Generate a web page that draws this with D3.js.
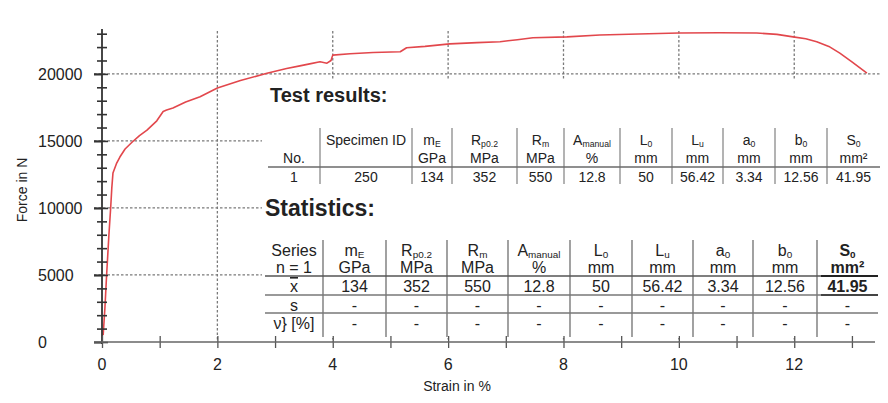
<!DOCTYPE html>
<html><head><meta charset="utf-8">
<script src="https://cdn.jsdelivr.net/npm/d3@7/dist/d3.min.js"></script>
<style>
html,body{margin:0;padding:0;background:#fff;}
text{font-family:"Liberation Sans",Arial,sans-serif;fill:#222;}
</style></head>
<body><svg id="c" width="888" height="403"></svg>
<script>
// ---- curve data (strain %, force N) ----
const strain = [0.02,0.05,0.08,0.12,0.15,0.17,0.19,0.25,0.31,0.40,0.52,0.65,0.78,0.95,1.06,1.12,1.23,1.45,1.70,2.00,2.40,2.86,3.20,3.43,3.60,3.78,3.90,3.97,4.00,4.30,4.70,5.17,5.28,5.60,6.03,6.50,6.90,7.20,7.47,8.06,8.63,9.30,10.00,10.70,11.35,11.70,11.98,12.20,12.39,12.60,12.79,13.00,13.26];
const force  = [500,2500,5000,8000,10000,11500,12600,13300,13800,14400,14900,15400,15800,16500,17200,17300,17450,17900,18300,18950,19500,20050,20400,20600,20750,20900,20800,21000,21400,21500,21600,21650,21950,22050,22240,22330,22400,22550,22700,22760,22900,22980,23050,23070,23050,22950,22760,22620,22400,22050,21550,20900,20050];

// ---- axes ----
const xTickLabels = [0,2,4,6,8,10,12];
const xMinorTicks = [1,3,5,7,9,11,13];
const yTickLabels = [0,5000,10000,15000,20000];
const yMinorTicks = [1000,2000,3000,4000,6000,7000,8000,9000,11000,12000,13000,14000,16000,17000,18000,19000,21000,22000,23000];
const xTitle = "Strain in %";
const yTitle = "Force in N";

// ---- test results table ----
const trTitle = "Test results:";
const trSymbols = [["m","E"],["R","p0.2"],["R","m"],["A","manual"],["L","0"],["L","u"],["a","0"],["b","0"],["S","0"]];
const trUnits = ["GPa","MPa","MPa","%","mm","mm","mm","mm","mm²"];
const trNo = ["No.","1"];
const trSpec = ["Specimen ID","250"];
const trValues = ["134","352","550","12.8","50","56.42","3.34","12.56","41.95"];

// ---- statistics table ----
const stTitle = "Statistics:";
const stRowLabels = ["Series","n = 1","x","s","ν} [%]"];
const stMean = ["134","352","550","12.8","50","56.42","3.34","12.56","41.95"];
const stSd   = ["-","-","-","-","-","-","-","-","-"];
const stCv   = ["-","-","-","-","-","-","-","-","-"];

const svg = d3.select("#c");
const x = d3.scaleLinear().domain([0,13.4]).range([102,875]);
const y = d3.scaleLinear().domain([0,23200]).range([342,31]);

// gridlines
const grid = svg.append("g").attr("stroke","#7a7a7a").attr("stroke-width",1.3).attr("stroke-dasharray","2.5,2");
grid.selectAll(".gv").data(xTickLabels.filter(d=>d>0)).join("line")
  .attr("x1",d=>x(d)).attr("x2",d=>x(d)).attr("y1",y(23200)).attr("y2",y(0));
grid.selectAll(".gh").data(yTickLabels.filter(d=>d>0)).join("line")
  .attr("x1",x(0)-8).attr("x2",x(13.4)+5).attr("y1",d=>y(d)).attr("y2",d=>y(d));

// white panel behind tables
svg.append("rect").attr("x",262).attr("y",80).attr("width",626).attr("height",258).attr("fill","#fff");

// curve
const pts = strain.map((s,i)=>[s,force[i]]);
svg.append("path").datum(pts)
  .attr("d",d3.line().x(d=>x(d[0])).y(d=>y(d[1])))
  .attr("fill","none").attr("stroke","#e2474c").attr("stroke-width",1.6).attr("stroke-linejoin","round");

// y axis
const yl = svg.append("g").attr("transform",`translate(${x(0)},0)`)
  .call(d3.axisLeft(y).tickValues(yTickLabels).tickSize(8).tickFormat(""));
const yr = svg.append("g").attr("transform",`translate(${x(0)},0)`)
  .call(d3.axisRight(y).tickValues(yTickLabels).tickSize(6).tickFormat(""));
const ym1 = svg.append("g").attr("transform",`translate(${x(0)},0)`)
  .call(d3.axisLeft(y).tickValues(yMinorTicks).tickSize(5).tickFormat(""));
const ym2 = svg.append("g").attr("transform",`translate(${x(0)},0)`)
  .call(d3.axisRight(y).tickValues(yMinorTicks).tickSize(5).tickFormat(""));
[yl,yr,ym1,ym2].forEach(g=>{g.select(".domain").remove();g.selectAll("line").attr("stroke","#333").attr("stroke-width",1.6);});
yl.selectAll("line").attr("stroke-width",2.2);
svg.append("line").attr("x1",x(0)).attr("x2",x(0)).attr("y1",29).attr("y2",y(0)+2).attr("stroke","#333").attr("stroke-width",1.8);
svg.append("g").selectAll("text").data(yTickLabels).join("text")
  .attr("x",38).attr("y",d=>y(d)).attr("dy","0.36em").attr("font-size",16).text(d=>d);

// x axis
const xa1 = svg.append("g").attr("transform",`translate(0,${y(0)})`)
  .call(d3.axisBottom(x).tickValues(xTickLabels.concat(xMinorTicks)).tickSize(6).tickFormat(""));
const xa2 = svg.append("g").attr("transform",`translate(0,${y(0)})`)
  .call(d3.axisTop(x).tickValues(xTickLabels.concat(xMinorTicks)).tickSize(6).tickFormat(""));
[xa1,xa2].forEach(g=>{g.select(".domain").remove();g.selectAll("line").attr("stroke","#555").attr("stroke-width",1.3);});
svg.append("line").attr("x1",94).attr("x2",x(13.4)).attr("y1",y(0)).attr("y2",y(0)).attr("stroke","#666").attr("stroke-width",1.6);
svg.append("g").selectAll("text").data(xTickLabels).join("text")
  .attr("x",d=>x(d)).attr("y",370).attr("text-anchor","middle").attr("font-size",16).text(d=>d);
svg.append("text").attr("x",457).attr("y",391).attr("text-anchor","middle").attr("font-size",14).text(xTitle);
svg.append("text").attr("transform","translate(27,190) rotate(-90)").attr("text-anchor","middle").attr("font-size",14).text(yTitle);

// helper for symbol with subscript
function sym(t, cx, cy, fs, pair, bold){
  const el = t.append("text").attr("x",cx).attr("y",cy).attr("text-anchor","middle").attr("font-size",fs);
  if(bold) el.attr("font-weight","bold");
  el.append("tspan").text(pair[0]);
  el.append("tspan").attr("font-size",fs*0.62).attr("dy",fs*0.12).text(pair[1]);
  return el;
}

// ---- Test results table ----
const T = svg.append("g");
T.append("text").attr("x",270).attr("y",102).attr("font-size",20).attr("font-weight","bold").attr("fill","#111").text(trTitle);
const trEdges = [268,320,412,452,517,564,620,672,723,775,827,880];
const trCx = trEdges.slice(0,-1).map((e,i)=>(e+trEdges[i+1])/2);
T.selectAll(".sep").data(trEdges.slice(1,-1)).join("line")
  .attr("x1",d=>d).attr("x2",d=>d).attr("y1",128).attr("y2",184).attr("stroke","#8a8a8a").attr("stroke-width",1.3);
T.append("line").attr("x1",268).attr("x2",880).attr("y1",167).attr("y2",167).attr("stroke","#6a6a6a").attr("stroke-width",1.6);
T.append("text").attr("x",trCx[0]).attr("y",163).attr("text-anchor","middle").attr("font-size",14).text(trNo[0]);
T.append("text").attr("x",trCx[0]).attr("y",182).attr("text-anchor","middle").attr("font-size",14).text(trNo[1]);
T.append("text").attr("x",trCx[1]).attr("y",145).attr("text-anchor","middle").attr("font-size",14).text(trSpec[0]);
T.append("text").attr("x",trCx[1]).attr("y",182).attr("text-anchor","middle").attr("font-size",14).text(trSpec[1]);
trSymbols.forEach((p,i)=>{
  sym(T, trCx[i+2], 145, 14, p, false);
  T.append("text").attr("x",trCx[i+2]).attr("y",163).attr("text-anchor","middle").attr("font-size",14).text(trUnits[i]);
  T.append("text").attr("x",trCx[i+2]).attr("y",182).attr("text-anchor","middle").attr("font-size",14).text(trValues[i]);
});

// ---- Statistics table ----
const S = svg.append("g");
S.append("text").attr("x",265).attr("y",216).attr("font-size",23).attr("font-weight","bold").attr("fill","#111").text(stTitle);
const stEdges = [265,323,386,447,508,570,632,693,753,817,878];
const stCx = stEdges.slice(0,-1).map((e,i)=>(e+stEdges[i+1])/2);
S.selectAll(".sep").data(stEdges.slice(1,-1)).join("line")
  .attr("x1",d=>d).attr("x2",d=>d).attr("y1",240).attr("y2",337).attr("stroke","#7a7a7a").attr("stroke-width",1.4);
[276,295,313].forEach((ly,i)=>{
  S.append("line").attr("x1",265).attr("x2",878).attr("y1",ly).attr("y2",ly)
    .attr("stroke",i===0?"#555":"#777").attr("stroke-width",i===0?1.7:1.4);
});
S.append("line").attr("x1",stEdges[9]+4).attr("x2",878).attr("y1",276).attr("y2",276).attr("stroke","#222").attr("stroke-width",2.2);
S.append("line").attr("x1",stEdges[9]+4).attr("x2",878).attr("y1",295).attr("y2",295).attr("stroke","#444").attr("stroke-width",1.8);
const rowY = [256,273,292,311,329];
stRowLabels.forEach((t,i)=>{
  const el = S.append("text").attr("x",stCx[0]).attr("y",rowY[i]).attr("text-anchor","middle").attr("font-size",16).text(t);
  if(i===2) el.attr("text-decoration","overline");
});
trSymbols.forEach((p,i)=>{
  const cx = stCx[i+1];
  sym(S, cx, 256, 16, p, i===8);
  const u = S.append("text").attr("x",cx).attr("y",273).attr("text-anchor","middle").attr("font-size",16).text(trUnits[i]);
  if(i===8) u.attr("font-weight","bold");
  const m = S.append("text").attr("x",cx).attr("y",292).attr("text-anchor","middle").attr("font-size",16).text(stMean[i]);
  if(i===8) m.attr("font-weight","bold");
  S.append("text").attr("x",cx).attr("y",311).attr("text-anchor","middle").attr("font-size",16).text(stSd[i]);
  S.append("text").attr("x",cx).attr("y",329).attr("text-anchor","middle").attr("font-size",16).text(stCv[i]);
});
</script></body></html>
